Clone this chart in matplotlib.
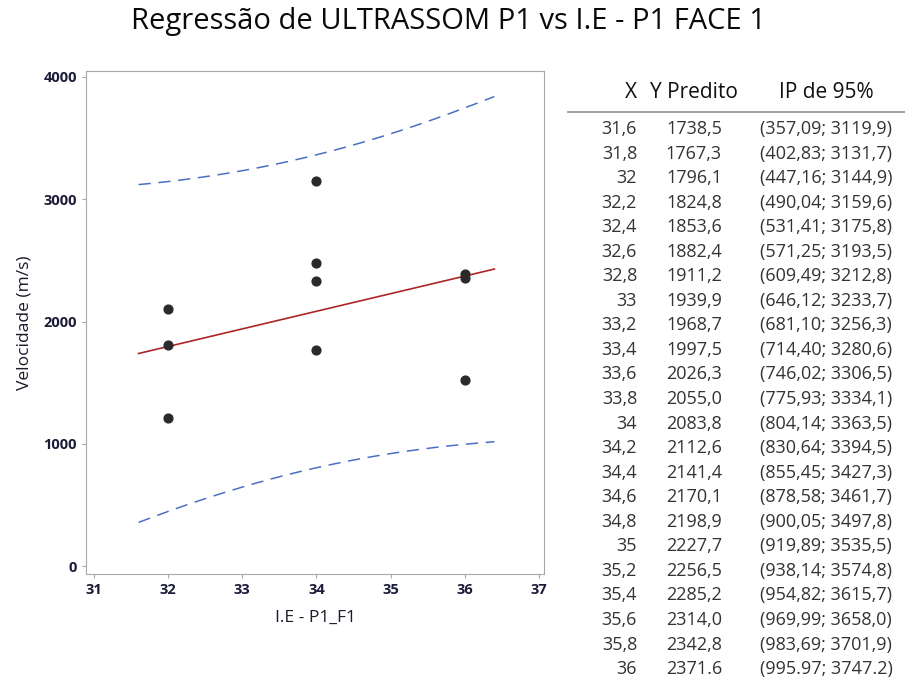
import matplotlib
matplotlib.use("Agg")
import matplotlib.pyplot as plt

plt.rcParams['font.family'] = ['Open Sans', 'DejaVu Sans']

# observed points
obs_x = [32, 32, 32, 34, 34, 34, 34, 36, 36, 36]
obs_y = [2103, 1808, 1211, 3150, 2480, 2332, 1768, 2390, 2357, 1522]

# fitted line and 95% prediction interval (from the table, plus the last two)
fit_x = [31.6, 31.8, 32, 32.2, 32.4, 32.6, 32.8, 33, 33.2, 33.4, 33.6, 33.8,
         34, 34.2, 34.4, 34.6, 34.8, 35, 35.2, 35.4, 35.6, 35.8, 36, 36.2, 36.4]
fit_y = [1738.5, 1767.3, 1796.1, 1824.8, 1853.6, 1882.4, 1911.2, 1939.9, 1968.7,
         1997.5, 2026.3, 2055.0, 2083.8, 2112.6, 2141.4, 2170.1, 2198.9, 2227.7,
         2256.5, 2285.2, 2314.0, 2342.8, 2371.6, 2400.3, 2429.1]
pi_low = [357.09, 402.83, 447.16, 490.04, 531.41, 571.25, 609.49, 646.12, 681.10,
          714.40, 746.02, 775.93, 804.14, 830.64, 855.45, 878.58, 900.05, 919.89,
          938.14, 954.82, 969.99, 983.69, 995.97, 1007.0, 1017.0]
pi_high = [3119.9, 3131.7, 3144.9, 3159.6, 3175.8, 3193.5, 3212.8, 3233.7, 3256.3,
           3280.6, 3306.5, 3334.1, 3363.5, 3394.5, 3427.3, 3461.7, 3497.8, 3535.5,
           3574.8, 3615.7, 3658.0, 3701.9, 3747.2, 3793.0, 3840.0]

# table on the right
tab_x = ["31,6", "31,8", "32", "32,2", "32,4", "32,6", "32,8", "33", "33,2", "33,4",
         "33,6", "33,8", "34", "34,2", "34,4", "34,6", "34,8", "35", "35,2", "35,4",
         "35,6", "35,8", "36"]
tab_y = ["1738,5", "1767,3", "1796,1", "1824,8", "1853,6", "1882,4", "1911,2", "1939,9",
         "1968,7", "1997,5", "2026,3", "2055,0", "2083,8", "2112,6", "2141,4", "2170,1",
         "2198,9", "2227,7", "2256,5", "2285,2", "2314,0", "2342,8", "2371.6"]
tab_ip = ["(357,09; 3119,9)", "(402,83; 3131,7)", "(447,16; 3144,9)", "(490,04; 3159,6)",
          "(531,41; 3175,8)", "(571,25; 3193,5)", "(609,49; 3212,8)", "(646,12; 3233,7)",
          "(681,10; 3256,3)", "(714,40; 3280,6)", "(746,02; 3306,5)", "(775,93; 3334,1)",
          "(804,14; 3363,5)", "(830,64; 3394,5)", "(855,45; 3427,3)", "(878,58; 3461,7)",
          "(900,05; 3497,8)", "(919,89; 3535,5)", "(938,14; 3574,8)", "(954,82; 3615,7)",
          "(969,99; 3658,0)", "(983,69; 3701,9)", "(995.97; 3747.2)"]

W, H = 905, 682
fig = plt.figure(figsize=(W / 100, H / 100), dpi=100)
ax = fig.add_axes([86 / W, 1 - 574 / H, (544 - 86) / W, (574 - 71) / H])

ax.plot(fit_x, pi_high, color='#4a6fc4', lw=1.1, dashes=(8, 5))
ax.plot(fit_x, pi_low, color='#4a6fc4', lw=1.1, dashes=(8, 5))
ax.plot(fit_x, fit_y, color='#ad2626', lw=1.2)
ax.scatter(obs_x, obs_y, s=40, color='#2a2a2a', zorder=3)

ax.set_xlim(30.89, 37.07)
ax.set_ylim(-65, 4049)
ax.set_xticks([31, 32, 33, 34, 35, 36, 37])
ax.set_yticks([0, 1000, 2000, 3000, 4000])
for s in ax.spines.values():
    s.set_color('#a8a8a8')
ax.tick_params(color='#a8a8a8', length=3, labelsize=10.5, labelcolor='#1c1c38')
for lab in ax.get_xticklabels() + ax.get_yticklabels():
    lab.set_fontweight('bold')
ax.set_xlabel('I.E - P1_F1', fontsize=12.5, color='#1a1a2a', labelpad=9)
ax.set_ylabel('Velocidade (m/s)', fontsize=12.5, color='#1a1a2a', labelpad=8)

fig.text(448 / W, 1 - 22 / H, 'Regressão de ULTRASSOM P1 vs I.E - P1 FACE 1',
         ha='center', va='center', fontsize=21, color='#0a0a0a')

# table
hy = 1 - 93 / H
fig.text(637 / W, hy, 'X', ha='right', va='center', fontsize=15, color='#111111')
fig.text(738 / W, hy, 'Y Predito', ha='right', va='center', fontsize=15, color='#111111')
fig.text(826 / W, hy, 'IP de 95%', ha='center', va='center', fontsize=15, color='#111111')
fig.add_artist(plt.Line2D([568 / W, 1.0], [1 - 112 / H] * 2, color='#909090', lw=1.2))

row0, step = 129, 24.55
for i in range(len(tab_x)):
    yy = 1 - (row0 + i * step) / H
    fig.text(637 / W, yy, tab_x[i], ha='right', va='center', fontsize=13, color='#333333')
    fig.text(722 / W, yy, tab_y[i], ha='right', va='center', fontsize=13, color='#333333')
    fig.text(826 / W, yy, tab_ip[i], ha='center', va='center', fontsize=13, color='#333333')

fig.savefig('out.png', dpi=100, facecolor='white')
